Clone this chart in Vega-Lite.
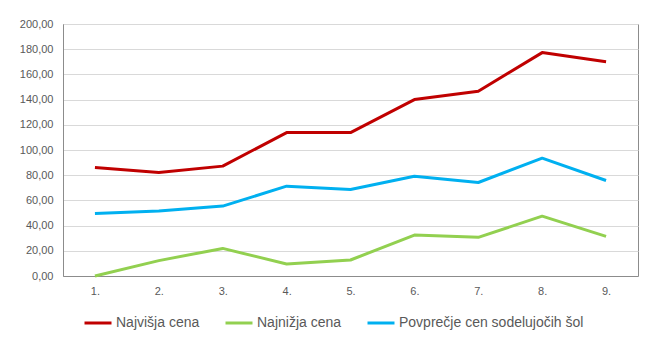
{
  "$schema": "https://vega.github.io/schema/vega-lite/v6.json",
  "width": 575,
  "height": 252,
  "autosize": {"type": "none"},
  "padding": {"left": 63, "top": 24, "right": 26, "bottom": 76},
  "background": "#ffffff",
  "config": {
    "font": "Liberation Sans",
    "view": {"stroke": "#8c8c8c", "strokeWidth": 1},
    "axis": {"labelColor": "#595959", "labelFont": "Liberation Sans", "labelFontSize": 11, "ticks": false, "title": null}
  },
  "data": {"values": [
    {"x": "1.", "s": "Najvišja cena", "v": 86.1},
    {"x": "2.", "s": "Najvišja cena", "v": 82.2},
    {"x": "3.", "s": "Najvišja cena", "v": 87.2},
    {"x": "4.", "s": "Najvišja cena", "v": 113.8},
    {"x": "5.", "s": "Najvišja cena", "v": 113.8},
    {"x": "6.", "s": "Najvišja cena", "v": 140.0},
    {"x": "7.", "s": "Najvišja cena", "v": 146.6},
    {"x": "8.", "s": "Najvišja cena", "v": 177.3},
    {"x": "9.", "s": "Najvišja cena", "v": 170.1},
    {"x": "1.", "s": "Najnižja cena", "v": 0},
    {"x": "2.", "s": "Najnižja cena", "v": 12.2},
    {"x": "3.", "s": "Najnižja cena", "v": 21.9},
    {"x": "4.", "s": "Najnižja cena", "v": 9.5},
    {"x": "5.", "s": "Najnižja cena", "v": 12.7},
    {"x": "6.", "s": "Najnižja cena", "v": 32.5},
    {"x": "7.", "s": "Najnižja cena", "v": 30.7},
    {"x": "8.", "s": "Najnižja cena", "v": 47.5},
    {"x": "9.", "s": "Najnižja cena", "v": 31.4},
    {"x": "1.", "s": "Povprečje cen sodelujočih šol", "v": 49.7},
    {"x": "2.", "s": "Povprečje cen sodelujočih šol", "v": 51.5},
    {"x": "3.", "s": "Povprečje cen sodelujočih šol", "v": 55.5},
    {"x": "4.", "s": "Povprečje cen sodelujočih šol", "v": 71.3},
    {"x": "5.", "s": "Povprečje cen sodelujočih šol", "v": 68.7},
    {"x": "6.", "s": "Povprečje cen sodelujočih šol", "v": 79.2},
    {"x": "7.", "s": "Povprečje cen sodelujočih šol", "v": 74.2},
    {"x": "8.", "s": "Povprečje cen sodelujočih šol", "v": 93.5},
    {"x": "9.", "s": "Povprečje cen sodelujočih šol", "v": 75.8}
  ]},
  "mark": {"type": "line", "strokeWidth": 3, "strokeJoin": "round"},
  "encoding": {
    "x": {
      "field": "x", "type": "ordinal", "sort": null,
      "scale": {"type": "point", "padding": 0.5},
      "axis": {"labelAngle": 0, "grid": false, "domain": true, "domainColor": "#8c8c8c", "labelPadding": 9}
    },
    "y": {
      "field": "v", "type": "quantitative",
      "scale": {"domain": [0, 200], "nice": false},
      "axis": {
        "values": [0, 20, 40, 60, 80, 100, 120, 140, 160, 180, 200],
        "labelExpr": "replace(format(datum.value, '.2f'), '.', ',')",
        "grid": true, "gridColor": "#d9d9d9", "domainColor": "#8c8c8c", "labelPadding": 10
      }
    },
    "color": {
      "field": "s", "type": "nominal",
      "scale": {
        "domain": ["Najvišja cena", "Najnižja cena", "Povprečje cen sodelujočih šol"],
        "range": ["#c00000", "#92d050", "#00b0f0"]
      },
      "legend": {
        "title": null, "orient": "none", "legendX": 20, "legendY": 284,
        "direction": "horizontal", "columns": 3, "columnPadding": 19,
        "symbolType": "stroke", "symbolSize": 729, "symbolStrokeWidth": 3,
        "labelFontSize": 14, "labelColor": "#595959", "labelOffset": 3, "labelFont": "Liberation Sans",
        "labelLimit": 0
      }
    }
  }
}
